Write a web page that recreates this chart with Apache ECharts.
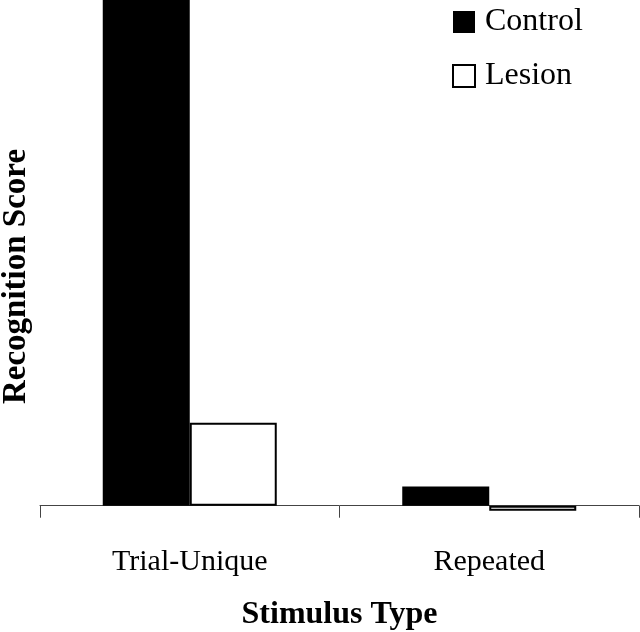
<!DOCTYPE html>
<html><head><meta charset="utf-8">
<script src="https://cdn.jsdelivr.net/npm/echarts@6/dist/echarts.min.js"></script>
<style>html,body{margin:0;padding:0;background:#fff}#c{width:640px;height:632px}</style>
</head><body><div id="c"></div>
<script>
var categories = ["Trial-Unique", "Repeated"];
var controlValues = [100, 3.8];
var lesionValues = [16.4, -1.0];
var seriesNames = ["Control", "Lesion"];

var font = "'Liberation Serif', 'Times New Roman', serif";
var chart = echarts.init(document.getElementById('c'));
chart.setOption({
  animation: false,
  backgroundColor: '#fff',
  grid: { left: 40, right: 1, top: 0, height: 531, containLabel: false, outerBoundsMode: 'none' },
  legend: {
    orient: 'vertical', left: 447, top: 1,
    icon: 'rect', itemWidth: 22, itemHeight: 22, itemGap: 22,
    textStyle: { fontFamily: font, fontSize: 32, lineHeight: 32, color: '#000', padding: [0, 0, 0, 5] },
    data: seriesNames
  },
  xAxis: {
    type: 'category', data: categories,
    axisLine: { onZero: true, lineStyle: { color: '#444', width: 1 } },
    axisTick: { show: true, length: 12, lineStyle: { color: '#444' } },
    axisLabel: { fontFamily: font, fontSize: 30, color: '#000', margin: 16 },
    name: 'Stimulus Type', nameLocation: 'middle', nameGap: 68,
    nameTextStyle: { fontFamily: font, fontSize: 32, fontWeight: 'bold', color: '#000' }
  },
  yAxis: {
    type: 'value', min: -5, max: 100,
    axisLine: { show: false }, axisTick: { show: false }, axisLabel: { show: false }, splitLine: { show: false },
    name: 'Recognition Score', nameLocation: 'middle', nameGap: 7,
    nameTextStyle: { fontFamily: font, fontSize: 33, fontWeight: 'bold', color: '#000', padding: [0, 22, 0, 0] }
  },
  series: [
    { name: seriesNames[0], type: 'bar', data: controlValues, barWidth: 87, barGap: 0,
      itemStyle: { color: '#000', borderColor: '#000', borderWidth: 0 } },
    { name: seriesNames[1], type: 'bar', data: lesionValues, barWidth: 87, barGap: 0,
      itemStyle: { color: '#fff', borderColor: '#000', borderWidth: 2 } }
  ]
});
</script></body></html>
